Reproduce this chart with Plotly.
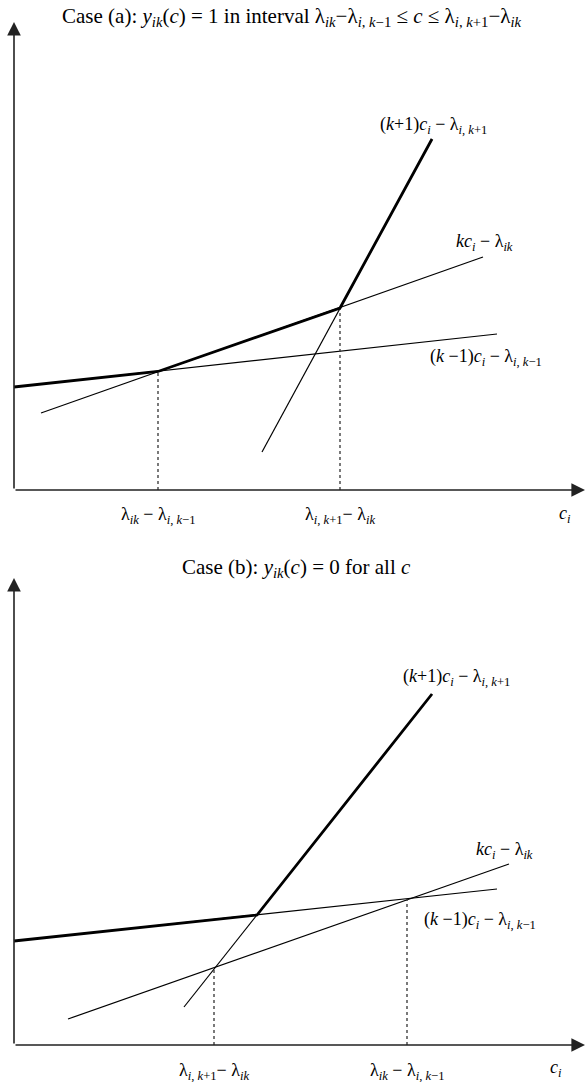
import plotly.graph_objects as go

FONT = "Liberation Serif"

# ---------- Panel (a) data (units: c on x, value on y) ----------
a_km1_x = [0.0, 48.3]
a_km1_y = [10.3, 15.6]
a_k_x = [2.7, 46.9]
a_k_y = [7.7, 23.3]
a_kp1_x = [24.8, 41.8]
a_kp1_y = [3.8, 35.1]
a_env_x = [0.0, 14.4, 32.6, 41.8]
a_env_y = [10.3, 11.85, 18.2, 35.1]
a_break_x = [14.4, 32.6]
a_break_y = [11.85, 18.2]
a_tick_text = ["λ<sub><i>ik</i></sub> − λ<sub><i>i</i>, <i>k</i>−1</sub>",
               "λ<sub><i>i</i>, <i>k</i>+1</sub>− λ<sub><i>ik</i></sub>"]

# ---------- Panel (b) data ----------
b_km1_x = [0.0, 48.3]
b_km1_y = [10.4, 15.6]
b_k_x = [5.4, 49.5]
b_k_y = [2.6, 18.1]
b_kp1_x = [17.0, 41.8]
b_kp1_y = [3.8, 35.1]
b_env_x = [0.0, 24.3, 41.8]
b_env_y = [10.4, 13.0, 35.1]
b_break_x = [20.0, 39.3]
b_break_y = [7.7, 14.6]
b_tick_text = ["λ<sub><i>i</i>, <i>k</i>+1</sub>− λ<sub><i>ik</i></sub>",
               "λ<sub><i>ik</i></sub> − λ<sub><i>i</i>, <i>k</i>−1</sub>"]

lbl_kp1 = "(<i>k</i>+1)<i>c</i><sub><i>i</i></sub> − λ<sub><i>i</i>, <i>k</i>+1</sub>"
lbl_k = "<i>kc</i><sub><i>i</i></sub> − λ<sub><i>ik</i></sub>"
lbl_km1 = "(<i>k</i> −1)<i>c</i><sub><i>i</i></sub> − λ<sub><i>i</i>, <i>k</i>−1</sub>"
lbl_ci = "<i>c</i><sub><i>i</i></sub>"
title_a = ("Case (a): <i>y</i><sub><i>ik</i></sub>(<i>c</i>) = 1 in interval "
           "λ<sub><i>ik</i></sub>−λ<sub><i>i</i>, <i>k</i>−1</sub> ≤ <i>c</i> ≤ "
           "λ<sub><i>i</i>, <i>k</i>+1</sub>−λ<sub><i>ik</i></sub>")
title_b = "Case (b): <i>y</i><sub><i>ik</i></sub>(<i>c</i>) = 0 for all <i>c</i>"

X_END = 57.1
LBL_SIZE = 18
TICK_SIZE = 18
TITLE_SIZE = 21

fig = go.Figure()

def add_panel(xa, ya, km1, k, kp1, env, brk, ticks, ticks_y, lbls, title, title_pos, y_end):
    thin = dict(color="black", width=1.2)
    for (xs, ys) in (km1, k, kp1):
        fig.add_trace(go.Scatter(x=xs, y=ys, mode="lines", line=thin,
                                 xaxis=xa, yaxis=ya, hoverinfo="skip", showlegend=False))
    for bx, by in zip(*brk):
        fig.add_trace(go.Scatter(x=[bx, bx], y=[0, by], mode="lines",
                                 line=dict(color="#333", width=1.3, dash="dot"),
                                 xaxis=xa, yaxis=ya, hoverinfo="skip", showlegend=False))
    fig.add_trace(go.Scatter(x=env[0], y=env[1], mode="lines",
                             line=dict(color="black", width=2.8),
                             xaxis=xa, yaxis=ya, hoverinfo="skip", showlegend=False))
    # axes arrows
    fig.add_annotation(x=X_END, y=0, ax=0, ay=0, xref=xa, yref=ya, axref=xa, ayref=ya,
                       text="", showarrow=True, arrowhead=2, arrowsize=1.7,
                       arrowwidth=1.6, arrowcolor="#222", standoff=0)
    fig.add_annotation(x=0, y=y_end, ax=0, ay=0, xref=xa, yref=ya, axref=xa, ayref=ya,
                       text="", showarrow=True, arrowhead=2, arrowsize=1.7,
                       arrowwidth=1.6, arrowcolor="#222", standoff=0)
    for bx, t in zip(brk[0], ticks):
        fig.add_annotation(x=bx, y=ticks_y, xref=xa, yref=ya, text=t, showarrow=False,
                           font=dict(family=FONT, size=TICK_SIZE, color="black"))
    for (px, py, t) in lbls:
        fig.add_annotation(x=px, y=py, xref=xa, yref=ya, text=t, showarrow=False,
                           font=dict(family=FONT, size=LBL_SIZE, color="black"))
    fig.add_annotation(x=title_pos[0], y=title_pos[1], xref=xa, yref=ya, text=title,
                       showarrow=False, font=dict(family=FONT, size=TITLE_SIZE, color="black"))

add_panel("x", "y", (a_km1_x, a_km1_y), (a_k_x, a_k_y), (a_kp1_x, a_kp1_y),
          (a_env_x, a_env_y), (a_break_x, a_break_y), a_tick_text, -2.5,
          [(41.9, 36.5, lbl_kp1), (47.0, 24.8, lbl_k), (47.2, 13.3, lbl_km1),
           (55.1, -2.4, lbl_ci)],
          title_a, (27.8, 47.3), 46.8)
add_panel("x2", "y2", (b_km1_x, b_km1_y), (b_k_x, b_k_y), (b_kp1_x, b_kp1_y),
          (b_env_x, b_env_y), (b_break_x, b_break_y), b_tick_text, -2.6,
          [(44.2, 36.8, lbl_kp1), (49.0, 19.5, lbl_k), (46.6, 12.5, lbl_km1),
           (54.2, -2.3, lbl_ci)],
          title_b, (28.2, 47.7), 46.7)

ax_common = dict(visible=False, showgrid=False, zeroline=False, fixedrange=True)
fig.update_layout(
    width=585, height=1082,
    margin=dict(l=0, r=0, t=0, b=0),
    paper_bgcolor="white", plot_bgcolor="white",
    showlegend=False,
    xaxis=dict(domain=[0, 1], range=[-1.4, 57.1], anchor="y", **ax_common),
    yaxis=dict(domain=[1 - 540 / 1082, 1], range=[-5.0, 49.0], anchor="x", **ax_common),
    xaxis2=dict(domain=[0, 1], range=[-1.4, 57.1], anchor="y2", **ax_common),
    yaxis2=dict(domain=[0, 0.5], range=[-3.7, 50.4], anchor="x2", **ax_common),
)

fig.write_html("out.html", config={"displayModeBar": False},
               post_script="document.body.style.margin='0';document.body.style.overflow='hidden';")
